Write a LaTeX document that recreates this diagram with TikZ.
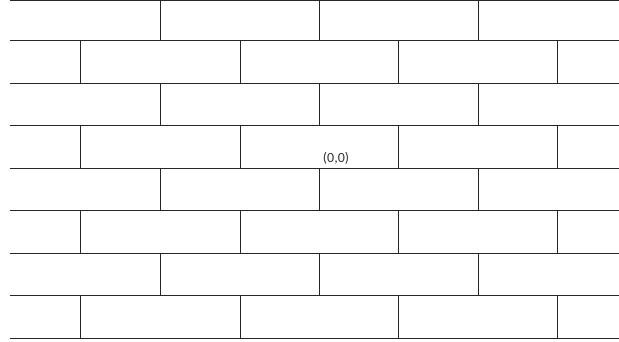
\documentclass[tikz,border=0pt]{standalone}
\usepackage{fontspec}
\setmainfont{Carlito}
\begin{document}
\begin{tikzpicture}[x=1pt,y=-1pt,
  mortar/.style={draw=black!85,line width=1pt}]
\useasboundingbox (0,0) rectangle (619,341);
% horizontal joints
\foreach \y in {0.5,40.5,83,125.5,168,210.5,253,295.5,338}
  \draw[mortar] (10,\y) -- (619,\y);
% vertical joints, odd courses
\foreach \t/\b in {0.5/40.5,83/125.5,168/210.5,253/295.5}
  \foreach \x in {160,319,478}
    \draw[mortar] (\x,\t) -- (\x,\b);
% vertical joints, even courses
\foreach \t/\b in {40.5/83,125.5/168,210.5/253,295.5/338}
  \foreach \x in {80,240,398,557}
    \draw[mortar] (\x,\t) -- (\x,\b);
\node[font=\fontsize{14}{16}\selectfont,text=black!80] (origin) at (336,158) {(0,0)};
\end{tikzpicture}
\end{document}
